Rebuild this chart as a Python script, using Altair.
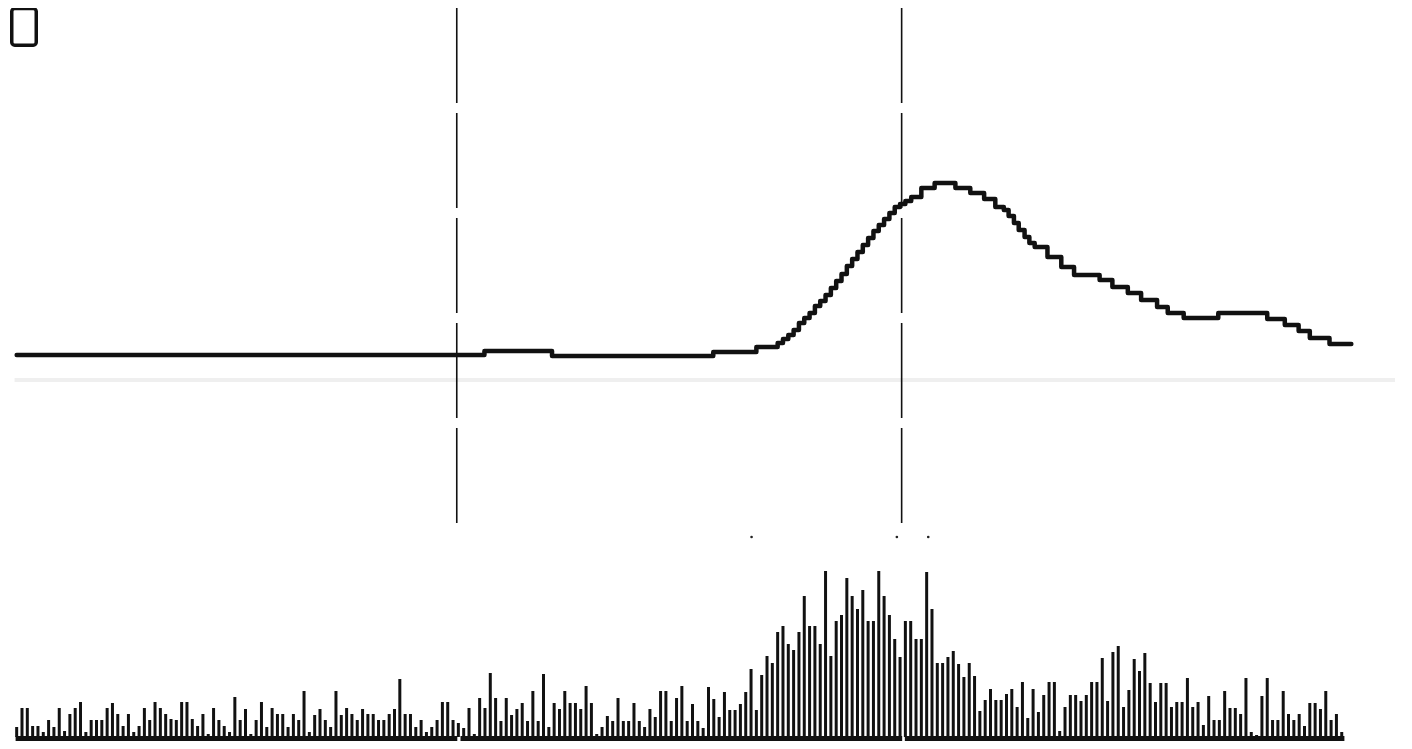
import altair as alt
import pandas as pd

# ---- data ----
# pulse-height counts per channel (bottom histogram), 250 channels
bar_counts = [
    10, 29, 29, 11, 11, 5, 17, 10, 29, 6, 23, 29, 35, 5, 17, 17, 17, 29, 34, 23, 11, 23, 5, 11, 29,
    17, 35, 29, 23, 18, 17, 35, 35, 18, 11, 23, 3, 29, 17, 11, 5, 40,
    17, 28, 3, 17, 35, 10, 29, 23, 23, 10, 23, 17, 46, 5, 22, 28, 17, 10, 46, 22, 29, 23, 17, 28,
    23, 23, 17, 17, 23, 28, 58, 23, 23, 10, 17, 5, 10, 17, 35, 35, 17,
    14, 9, 29, 3, 39, 29, 64, 39, 16, 39, 22, 28, 34, 16, 46, 16, 63, 10, 34, 28, 46, 34, 34, 28,
    51, 34, 3, 10, 21, 16, 39, 16, 16, 34, 16, 10, 28, 20, 46, 46, 16, 39, 51,
    16, 33, 16, 9, 50, 38, 20, 45, 27, 27, 33, 45, 68, 27, 62, 81, 74, 105, 111, 93, 87, 105, 141,
    111, 111, 93, 166, 81, 116, 122, 159, 141, 128, 147, 116, 116, 166, 141, 122, 98,
    80, 116, 116, 98, 98, 165, 128, 74, 74, 80, 86, 73, 60, 74, 61, 26, 37, 48, 37, 37, 43, 48, 30,
    55, 19, 48, 25, 42, 55, 55, 6, 30, 42, 42, 36, 42, 55, 55, 79,
    36, 85, 91, 30, 47, 78, 66, 84, 54, 35, 54, 54, 30, 35, 35, 59, 30, 35, 12, 41, 17, 17, 46, 29,
    29, 23, 59, 5, 2, 41, 59, 17, 17, 46, 23, 17, 23, 11, 34, 34, 28, 46, 17, 23, 5,
]

# stepped integral curve: channel where each step starts, and its level
step_start = [
    0, 87.9, 100.6, 130.9, 139.0,
    143, 144, 145, 146, 147, 148, 149, 150, 151, 152, 153, 154, 155, 156, 157, 158, 159, 160,
    161, 162, 163, 164, 165, 166, 167, 168.1, 170.0, 172.5, 176.4, 179.2, 181.8, 183.9,
    185.5, 186.4, 187.4, 188.3, 189.4, 190.3, 191.3, 193.7, 196.3, 198.7, 203.5, 205.9, 208.8,
    211.3, 214.3, 216.3, 219.3, 225.8, 235.0, 238.3, 240.9, 243.0, 246.7, 250.8,
]
step_level = [
    0, 4, -1, 3, 8,
    12, 16, 20, 25, 32, 37, 42, 49, 54, 60, 67, 74, 81, 89, 96, 103, 110, 117,
    124, 130, 136, 142, 148, 151, 154, 158, 167, 172, 167, 162, 156, 148,
    145, 139, 132, 125, 118, 112, 108, 98, 88, 80, 75, 68, 62,
    55, 48, 42, 37, 42, 36, 30, 24, 17, 11, 11,
]

marker_channels = [82.7, 166.3]          # dashed window markers
dot_channels = [138.1, 165.4, 171.3]      # small ticks under the markers
dot_level = [200, 200, 200]
segment_start = [-0.2, 83.4, 166.9]       # baseline segments
segment_end = [82.8, 166.4, 249.5]
scan_line = {"a": [-0.4], "b": [259.0], "lvl": [-25]}

# ---- tables ----
bars = pd.DataFrame({"ch": list(range(len(bar_counts))), "n": bar_counts})
steps = pd.DataFrame({"ch": step_start, "v": step_level})
markers = pd.DataFrame({"ch": marker_channels})
dots = pd.DataFrame({"ch": dot_channels, "n": dot_level})
segs = pd.DataFrame({"a": segment_start, "b": segment_end, "lvl": [-1.5] * 3})
scan = pd.DataFrame(scan_line)

xs = alt.Scale(domain=[-0.69, 259.76], nice=False, zero=False)
ybar = alt.Scale(domain=[-4, 729], nice=False, zero=False)
yline = alt.Scale(domain=[-386, 347], nice=False, zero=False)

scan_layer = alt.Chart(scan).mark_rule(color="#efefef", strokeWidth=4).encode(
    x=alt.X("a:Q", scale=xs, axis=None),
    x2="b:Q",
    y=alt.Y("lvl:Q", scale=yline, axis=None),
)

bar_layer = alt.Chart(bars).mark_bar(width=3, color="#111111").encode(
    x=alt.X("ch:Q", scale=xs, axis=None),
    y=alt.Y("n:Q", scale=ybar, axis=None),
)

base_layer = alt.Chart(segs).mark_rule(color="#111111", strokeWidth=5, strokeCap="butt").encode(
    x=alt.X("a:Q", scale=xs, axis=None),
    x2="b:Q",
    y=alt.Y("lvl:Q", scale=ybar, axis=None),
)

dot_layer = alt.Chart(dots).mark_point(filled=True, size=7, color="#222222", opacity=1).encode(
    x=alt.X("ch:Q", scale=xs, axis=None),
    y=alt.Y("n:Q", scale=ybar, axis=None),
)

line_layer = alt.Chart(steps).mark_line(
    interpolate="step-after", color="#111111", strokeWidth=4.5, strokeJoin="round", strokeCap="round"
).encode(
    x=alt.X("ch:Q", scale=xs, axis=None),
    y=alt.Y("v:Q", scale=yline, axis=None),
)

marker_layer = alt.Chart(markers).mark_rule(color="#111111", strokeWidth=1.6, strokeDash=[95, 10]).encode(
    x=alt.X("ch:Q", scale=xs, axis=None),
    y=alt.value(0),
    y2=alt.value(517),
)

icon_layer = alt.Chart(pd.DataFrame({"k": [0]})).mark_rect(
    fill="white", stroke="#111111", strokeWidth=3.5, cornerRadius=3
).encode(
    x=alt.value(3.75), x2=alt.value(28.25), y=alt.value(0.5), y2=alt.value(37.25)
)

chart = (
    alt.layer(scan_layer, bar_layer, base_layer, dot_layer, marker_layer, line_layer, icon_layer)
    .resolve_scale(y="independent")
    .properties(width=1396, height=733, padding=0, autosize=alt.AutoSizeParams(type="none"))
    .configure_view(stroke=None)
)

chart.save("out.html", embed_options={"renderer": "svg", "actions": False})
